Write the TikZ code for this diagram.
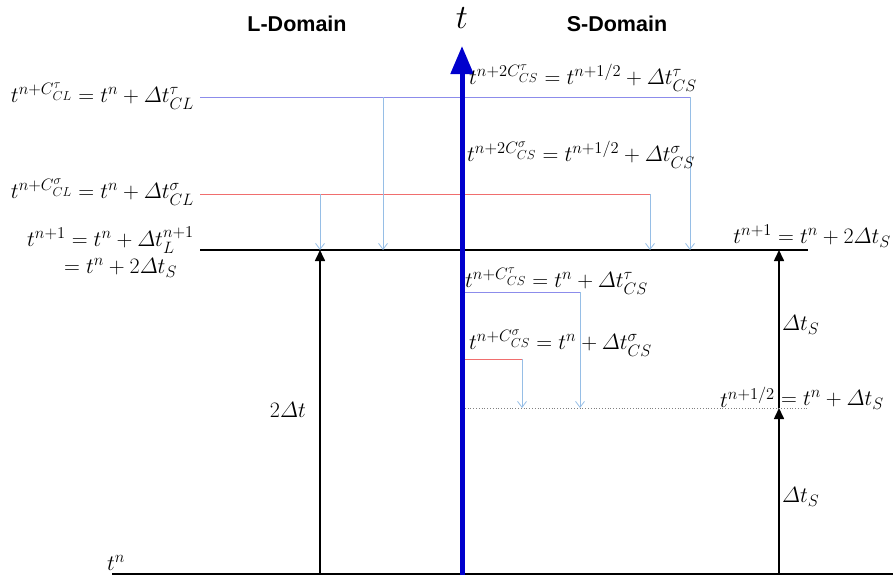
\RequirePackage{fix-cm}
\documentclass[tikz,border=0pt]{standalone}
\usepackage{amsmath}
\usepackage{fontspec}
\setsansfont{Liberation Sans}
\usetikzlibrary{arrows.meta}
\DeclareMathSizes{22}{22}{16.5}{13}
\DeclareMathSizes{34}{34}{24}{18}
\definecolor{axisblue}{RGB}{0,0,205}
\definecolor{taublue}{RGB}{140,140,235}
\definecolor{sigred}{RGB}{240,110,110}
\definecolor{dropblue}{RGB}{150,190,230}
\tikzset{
  lbl/.style={inner sep=0pt, font=\fontsize{22}{26}\selectfont},
  hdr/.style={inner sep=0pt, font=\sffamily\bfseries\fontsize{21.5}{24}\selectfont},
  level/.style={line width=2.2pt, black},
  tauline/.style={line width=0.8pt, taublue},
  sigline/.style={line width=0.8pt, sigred},
  drop/.style={line width=0.8pt, dropblue, -{Straight Barb[length=6pt,width=9pt]}},
  span/.style={line width=1.6pt, black, -{Triangle[length=11pt,width=10pt]}},
}
\newcommand{\dT}{\mathnormal{\Delta} t}
\begin{document}
\begin{tikzpicture}[x=1pt,y=-1pt]
\useasboundingbox (0,0) rectangle (893,578);

% reference points
\coordinate (b0) at (112,574);  \coordinate (b1) at (893,574);
\coordinate (n0) at (200,250);  \coordinate (n1) at (808,250);
\coordinate (tauL) at (200,97); \coordinate (tauR) at (690,97);
\coordinate (sigL) at (200,194);\coordinate (sigR) at (650,194);
\coordinate (aL1) at (320,194); \coordinate (aL1e) at (320,250);
\coordinate (aL2) at (383,97);  \coordinate (aL2e) at (383,250);
\coordinate (aR1e) at (650,250);
\coordinate (aR2e) at (690,250);
\coordinate (stauL) at (462,292); \coordinate (stauR) at (580,292);
\coordinate (ssigL) at (462,359); \coordinate (ssigR) at (522,359);
\coordinate (hL) at (462,408);  \coordinate (hR) at (808,408);
\coordinate (sA) at (580,408);  \coordinate (sB) at (522,408);
\coordinate (lv0) at (320,574); \coordinate (lv1) at (320,250);
\coordinate (rv0) at (779,574); \coordinate (rv1) at (779,408); \coordinate (rv2) at (779,250);
\coordinate (ax0) at (462,575); \coordinate (ax1) at (462,46);

% time levels
\draw[level] (b0) -- (b1);
\draw[level] (n0) -- (n1);
\draw[gray, line width=0.8pt, dotted] (hL) -- (hR);

% coupling levels in the L domain
\draw[tauline] (tauL) -- (tauR);
\draw[sigline] (sigL) -- (sigR);
\draw[drop] (aL1) -- (aL1e);
\draw[drop] (aL2) -- (aL2e);
\draw[drop] (sigR) -- (aR1e);
\draw[drop] (tauR) -- (aR2e);

% coupling levels in the S domain
\draw[tauline] (stauL) -- (stauR);
\draw[sigline] (ssigL) -- (ssigR);
\draw[drop] (stauR) -- (sA);
\draw[drop] (ssigR) -- (sB);

% step spans
\draw[span] (lv0) -- (lv1);
\draw[span] (rv0) -- (rv1);
\draw[span] (rv1) -- (rv2);

% time axis
\draw[axisblue, line width=5pt, -{Triangle[length=28pt,width=22pt]}] (ax0) -- (ax1);

% headings
\node[hdr] (hL1) at (297,24) {L-Domain};
\node[hdr] (hS1) at (617,24) {S-Domain};
\node[inner sep=0pt, font=\fontsize{34}{38}\selectfont] (tt) at (462,18) {$t$};

% labels, L side
\node[lbl, anchor=east] (l1) at (194,96) {$t^{n+C^{\tau}_{CL}}=t^{n}+\dT^{\tau}_{CL}$};
\node[lbl, anchor=east] (l2) at (194,192) {$t^{n+C^{\sigma}_{CL}}=t^{n}+\dT^{\sigma}_{CL}$};
\node[lbl, anchor=east] (l3) at (194,240) {$t^{n+1}=t^{n}+\dT^{n+1}_{L}$};
\node[lbl, anchor=west] (l4) at (64,268) {$=t^{n}+2\dT_{S}$};
\node[lbl, anchor=east] (l5) at (306,410) {$2\dT$};
\node[lbl, anchor=west] (l6) at (107,563) {$t^{n}$};

% labels, S side
\node[lbl, anchor=west] (s1) at (469,78) {$t^{n+2C^{\tau}_{CS}}=t^{n+1/2}+\dT^{\tau}_{CS}$};
\node[lbl, anchor=west] (s2) at (467,155) {$t^{n+2C^{\sigma}_{CS}}=t^{n+1/2}+\dT^{\sigma}_{CS}$};
\node[lbl, anchor=east] (s3) at (891,236) {$t^{n+1}=t^{n}+2\dT_{S}$};
\node[lbl, anchor=west] (s4) at (465,281) {$t^{n+C^{\tau}_{CS}}=t^{n}+\dT^{\tau}_{CS}$};
\node[lbl, anchor=west] (s5) at (469,343) {$t^{n+C^{\sigma}_{CS}}=t^{n}+\dT^{\sigma}_{CS}$};
\node[lbl, anchor=west] (s6) at (782,325) {$\dT_{S}$};
\node[lbl, anchor=east] (s7) at (775,397) {$t^{n+1/2}$};
\node[lbl, anchor=west] (s8) at (781,400) {$=t^{n}+\dT_{S}$};
\node[lbl, anchor=west] (s9) at (782,497) {$\dT_{S}$};
\end{tikzpicture}
\end{document}
